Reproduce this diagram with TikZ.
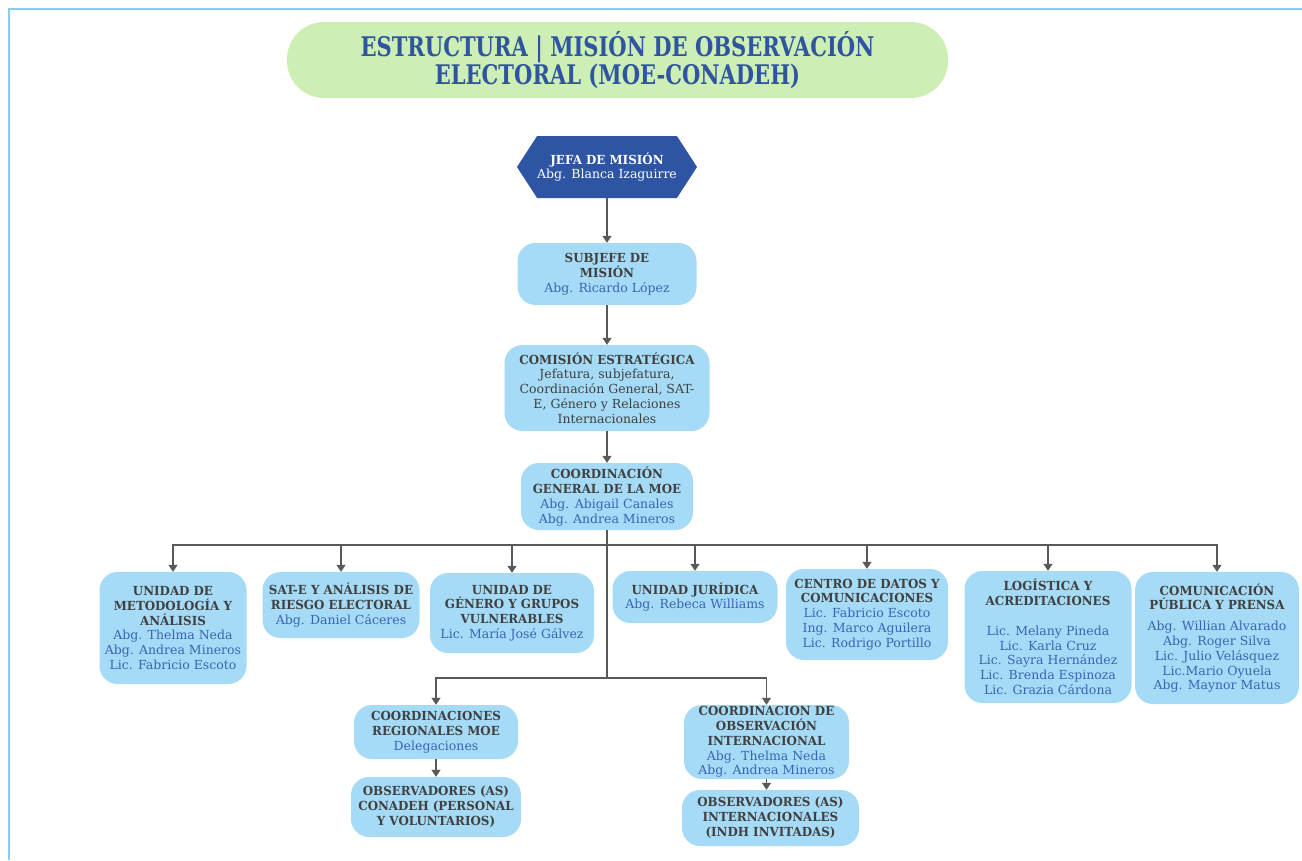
\documentclass[tikz,border=0pt]{standalone}
\usepackage{fontspec}
\setmainfont{DejaVu Serif}[BoldFeatures={FakeStretch=0.95}]
\newfontfamily\titlefont{DejaVu Serif}[FakeStretch=0.78]
\usetikzlibrary{arrows.meta,shapes.symbols}
\definecolor{bannergreen}{HTML}{CDEFB5}
\definecolor{titleblue}{HTML}{2F54A0}
\definecolor{chiefblue}{HTML}{2D55A3}
\definecolor{unitblue}{HTML}{A5DBF6}
\definecolor{headgray}{HTML}{404040}
\definecolor{nameblue}{HTML}{3B63B5}
\definecolor{linegray}{HTML}{595959}
\definecolor{frameblue}{HTML}{8DCBEA}
\newcommand{\nombre}[1]{{\color{nameblue}#1}}
\begin{document}
\begin{tikzpicture}[x=1pt, y=-1pt,
    every node/.style={font=\fontsize{12.5}{14.8}\selectfont},
    banner/.style={rounded corners=37pt, fill=bannergreen, text=titleblue, align=center,
        font=\titlefont\bfseries\fontsize{27}{28}\selectfont, minimum width=661pt, minimum height=76pt},
    chief/.style={signal, signal to=west and east, signal pointer angle=114, fill=chiefblue,
        text=white, align=center, minimum width=177pt, minimum height=62pt, inner sep=0pt},
    unit/.style={rounded corners=18pt, fill=unitblue, text=headgray, align=center, inner sep=0pt},
    link/.style={draw=linegray, line width=1.2pt, -{Triangle[width=9pt,length=7pt]}}
]
\useasboundingbox (0,0) rectangle (1302,860);
% Marco
\draw[frameblue, line width=1.5pt] (9,860) -- (9,9) -- (1302,9);

% Titulo
\node[banner] (title) at (617.5,60) {ESTRUCTURA | MISIÓN DE OBSERVACIÓN\\ELECTORAL (MOE-CONADEH)};

% Direccion
\node[chief] (jefa) at (607,167) {\textbf{JEFA DE MISIÓN}\\Abg. Blanca Izaguirre};
\node[unit, minimum width=179pt, minimum height=62pt] (sub) at (607,274)
    {\textbf{SUBJEFE DE}\\\textbf{MISIÓN}\\\nombre{Abg. Ricardo López}};
\node[unit, minimum width=205pt, minimum height=86pt] (com) at (607,388)
    {\textbf{COMISIÓN ESTRATÉGICA}\\Jefatura, subjefatura,\\Coordinación General, SAT-\\E, Género y Relaciones\\Internacionales};
\node[unit, minimum width=172pt, minimum height=67pt] (coord) at (607,496.5)
    {\textbf{COORDINACIÓN}\\\textbf{GENERAL DE LA MOE}\\\nombre{Abg. Abigail Canales}\\\nombre{Abg. Andrea Mineros}};

\draw[link] (jefa.south) -- (sub.north);
\draw[link] (sub) -- (com);
\draw[link] (com) -- (coord);

% Unidades
\node[unit, minimum width=147pt, minimum height=112pt] (met) at (173,628)
    {\textbf{UNIDAD DE}\\\textbf{METODOLOGÍA Y}\\\textbf{ANÁLISIS}\\\nombre{Abg. Thelma Neda}\\\nombre{Abg. Andrea Mineros}\\\nombre{Lic. Fabricio Escoto}};
\node[unit, minimum width=157pt, minimum height=66pt] (sat) at (341,605)
    {\textbf{SAT-E Y ANÁLISIS DE}\\\textbf{RIESGO ELECTORAL}\\\nombre{Abg. Daniel Cáceres}};
\node[unit, minimum width=164pt, minimum height=80pt] (gen) at (512,613)
    {\textbf{UNIDAD DE}\\\textbf{GÉNERO Y GRUPOS}\\\textbf{VULNERABLES}\\\nombre{Lic. María José Gálvez}};
\node[unit, minimum width=165pt, minimum height=52pt] (jur) at (695,597)
    {\textbf{UNIDAD JURÍDICA}\\\nombre{Abg. Rebeca Williams}};
\node[unit, minimum width=162pt, minimum height=91pt] (dat) at (867,614.5)
    {\textbf{CENTRO DE DATOS Y}\\\textbf{COMUNICACIONES}\\\nombre{Lic. Fabricio Escoto}\\\nombre{Ing. Marco Aguilera}\\\nombre{Lic. Rodrigo Portillo}};
\node[unit, minimum width=167pt, minimum height=132pt] (logi) at (1048,637)
    {\textbf{LOGÍSTICA Y}\\\textbf{ACREDITACIONES}\\[14.8pt]\nombre{Lic. Melany Pineda}\\\nombre{Lic. Karla Cruz}\\\nombre{Lic. Sayra Hernández}\\\nombre{Lic. Brenda Espinoza}\\\nombre{Lic. Grazia Cárdona}};
\node[unit, minimum width=164pt, minimum height=132pt] (pub) at (1217,638)
    {\textbf{COMUNICACIÓN}\\\textbf{PÚBLICA Y PRENSA}\\[6pt]\nombre{Abg. Willian Alvarado}\\\nombre{Abg. Roger Silva}\\\nombre{Lic. Julio Velásquez}\\\nombre{Lic.Mario Oyuela}\\\nombre{Abg. Maynor Matus}};

\coordinate (bus) at (607,545);
\coordinate (bus2) at (607,678);
\draw[draw=linegray, line width=1.2pt] (coord.south) -- (bus2);
\foreach \u in {met,sat,gen,jur,dat,logi,pub}
    \draw[link] (bus) -| (\u.north);

% Observadores
\node[unit, minimum width=164pt, minimum height=54pt] (reg) at (436,732)
    {\textbf{COORDINACIONES}\\\textbf{REGIONALES MOE}\\\nombre{Delegaciones}};
\node[unit, minimum width=170pt, minimum height=60pt] (obsc) at (436,807)
    {\textbf{OBSERVADORES (AS)}\\\textbf{CONADEH (PERSONAL}\\\textbf{Y VOLUNTARIOS)}};
\node[unit, minimum width=165pt, minimum height=74pt] (int) at (766.5,742)
    {\textbf{COORDINACION DE}\\\textbf{OBSERVACIÓN}\\\textbf{INTERNACIONAL}\\\nombre{Abg. Thelma Neda}\\\nombre{Abg. Andrea Mineros}};
\node[unit, minimum width=177pt, minimum height=56pt] (obsi) at (770.5,818)
    {\textbf{OBSERVADORES (AS)}\\\textbf{INTERNACIONALES}\\\textbf{(INDH INVITADAS)}};

\draw[link] (bus2) -| (reg.north);
\draw[link] (bus2) -| (int.north);
\draw[link] (reg) -- (obsc);
\draw[link] (int.south) -- (int.south |- obsi.north);
\end{tikzpicture}
\end{document}
